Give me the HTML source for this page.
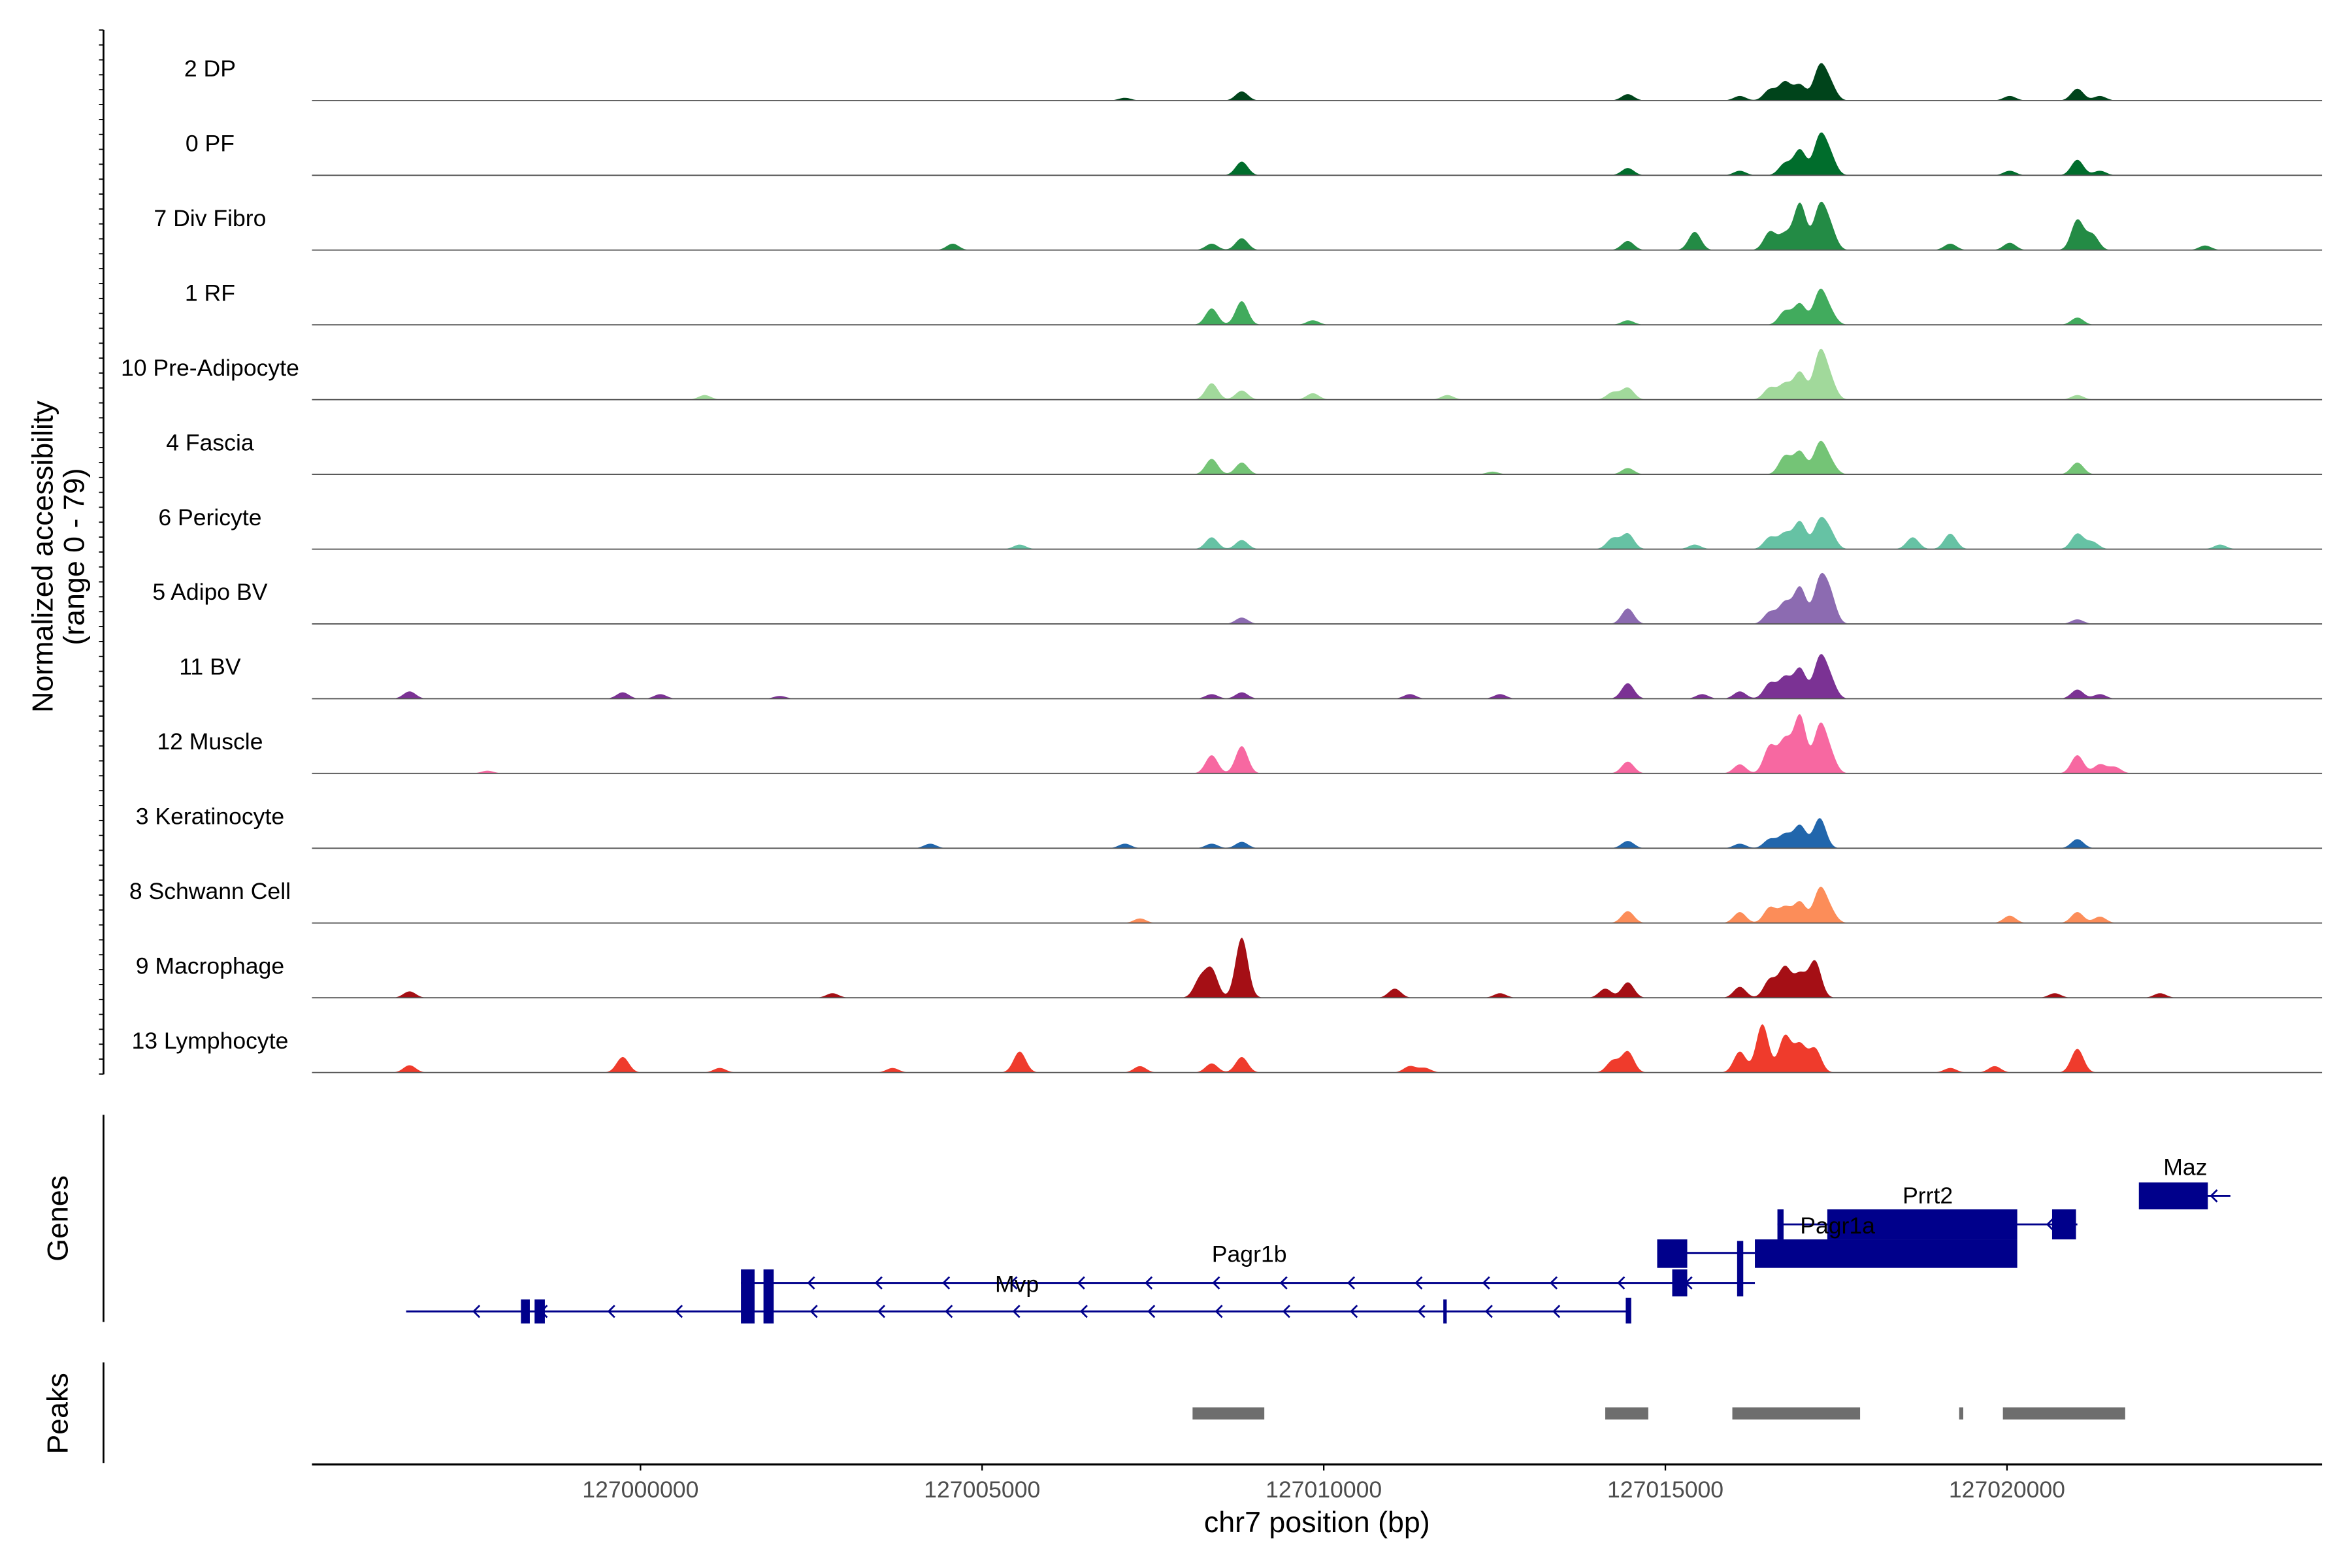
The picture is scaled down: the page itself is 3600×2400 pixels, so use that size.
<!DOCTYPE html>
<html><head><meta charset="utf-8"><style>
html,body{margin:0;padding:0;background:#fff}
svg{display:block;font-family:"Liberation Sans",sans-serif}
</style></head><body>
<svg id="chart" width="3600" height="2400" viewBox="0 0 1568 1045" preserveAspectRatio="none" xmlns="http://www.w3.org/2000/svg">
<rect width="1568" height="1045" fill="#fff"/>
<g id="tracks"></g>
<g id="genes"></g>
<g id="peaks"></g>
<g id="axes"></g>
</svg>
<script>
// genomic positions in kb relative to 127,000,000
const trackNames = ["2 DP","0 PF","7 Div Fibro","1 RF","10 Pre-Adipocyte","4 Fascia","6 Pericyte","5 Adipo BV","11 BV","12 Muscle","3 Keratinocyte","8 Schwann Cell","9 Macrophage","13 Lymphocyte"];
const trackColors = ["#00441b","#006d2c","#238b45","#41ab5d","#a1d99b","#74c476","#66c2a4","#8c6bb1","#7b3294","#f768a1","#2166ac","#fc8d59","#a50f15","#ef3b2c"];
const peakPos = [
 [16.97,17.26,16.75,16.53,17.41,16.09,21.03,20.04,8.80,14.45,7.09,21.36],
 [16.97,17.26,16.75,17.41,16.09,21.03,8.80,14.45,20.04,21.36],
 [16.97,17.26,16.53,16.75,17.41,15.43,14.45,21.03,21.25,8.80,8.36,4.57,19.17,20.04,22.90],
 [8.36,8.80,16.97,17.26,16.75,17.41,14.45,21.03,9.84],
 [8.36,8.80,17.26,16.97,16.75,16.53,14.45,14.23,17.41,9.84,11.81,21.03,0.94],
 [8.36,8.80,16.97,17.26,16.75,17.41,14.45,21.03,12.47],
 [8.36,8.80,14.45,14.23,16.97,17.26,16.75,16.53,17.41,18.62,19.17,21.03,21.25,15.43,5.55,23.12],
 [14.45,16.97,17.26,16.75,16.53,17.41,8.80,21.03],
 [-3.38,-0.26,0.29,14.45,16.97,17.26,16.75,16.53,17.41,16.09,15.54,8.80,8.36,21.03,21.36,12.58,11.26,2.04],
 [8.36,8.80,16.97,17.26,16.75,16.53,17.41,16.09,14.45,21.03,21.36,21.58,-2.24],
 [16.97,17.26,16.75,16.53,16.09,14.45,21.03,8.36,8.80,4.24,7.09],
 [16.97,17.26,16.75,16.53,17.41,16.09,14.45,20.04,21.03,21.36,7.31],
 [8.36,8.80,8.19,14.45,14.12,16.75,17.19,16.97,16.53,16.09,11.04,-3.38,2.81,20.70,22.24,12.58],
 [-0.26,5.55,8.80,8.36,14.45,14.23,16.09,16.42,16.75,16.97,17.19,21.03,-3.38,7.31,11.26,19.17,19.82,1.16,3.69,11.48]
];
const peakVal = [
 [17,36,20,12,17,5,13,5,10,7,3,5],
 [28,41,13,20,5,17,15,8,5,5],
 [51,46,20,17,23,20,10,33,17,13,7,7,7,8,5],
 [18,26,23,36,15,13,5,8,5],
 [18,10,50,30,17,13,13,8,20,7,5,5,5],
 [17,13,25,33,20,13,7,13,3],
 [13,10,17,12,30,30,17,13,17,13,17,17,8,5,5,5],
 [17,40,46,23,13,30,7,5],
 [8,7,5,17,33,43,23,17,20,8,5,7,5,10,5,5,5,3],
 [20,30,63,50,36,30,20,10,13,20,10,7,3],
 [25,33,15,10,5,8,10,5,7,5,5],
 [23,36,17,17,13,12,13,8,12,7,5],
 [30,66,20,17,10,33,40,25,20,12,10,7,5,5,5,5],
 [17,23,17,10,23,13,23,53,40,30,26,26,8,7,7,5,7,5,5,5]
];
const xTicks = [0,5,10,15,20];
const xTickLabels = ["127000000","127005000","127010000","127015000","127020000"];
// gene models: [startKb, endKb, rowY]
const geneLines = [[-3.43,14.45,874],[1.47,16.31,855],[15.32,16.31,835],[16.64,21.03,816],[22.0,23.27,797]];
const geneExons = [[-1.75,-1.62,866,882],[-1.55,-1.4,866,882],[1.47,1.67,846,882],[1.80,1.95,846,882],[11.75,11.8,866,882],[14.42,14.5,865,882],[15.1,15.32,846,864],[14.88,15.32,826,845],[16.05,16.14,827,864],[16.31,20.15,826,845],[17.37,20.15,806,826],[16.64,16.73,806,826],[20.66,21.01,806,826],[21.93,22.94,788,806]];
const geneNames = ["Pagr1b","Mvp","Pagr1a","Prrt2","Maz"];
const geneLabelPos = [[8.91,841],[5.51,861],[17.52,822],[18.84,802],[22.61,783]];
const peakStart = [8.08,14.12,15.98,19.30,19.94];
const peakEnd = [9.13,14.75,17.85,19.36,21.73];

const NS='http://www.w3.org/2000/svg';
const X0=427, KB=45.55;
function xs(kb){return X0+kb*KB;}
const UNIT=48/79;
function mk(tag,attrs,parent){const e=document.createElementNS(NS,tag);for(const k in attrs)e.setAttribute(k,attrs[k]);parent.appendChild(e);return e;}
const tracks=document.getElementById('tracks');
trackNames.forEach((nm,i)=>{
  const base=67+49.83*i;
  const g=mk('g',{},tracks);
  
  
  let d='M208,'+base;
  for(let x=208;x<=1548;x+=1){
    const kb=(x-X0)/KB;let v=0;
    peakPos[i].forEach((p,j)=>{const z=(kb-p)/0.09;v+=peakVal[i][j]*Math.exp(-0.5*z*z);});
    d+=' L'+x+','+(base-Math.min(v,79)*UNIT).toFixed(2);
  }
  d+=' L1548,'+base+' Z';
  const a=mk('path',{d:d,fill:trackColors[i]},g);
  
  
  const l=mk('line',{x1:208,x2:1548,y1:base,y2:base,stroke:'#555','stroke-width':0.8},g);
  
  
  const t=mk('text',{x:140,y:base-16,'font-size':15.5,'text-anchor':'middle',fill:'#000'},g);
  t.textContent=nm;
  
  
});
const genes=document.getElementById('genes');
const C='#00008b';
geneLines.forEach(r=>{
  const l=mk('line',{x1:xs(r[0]),x2:xs(r[1]),y1:r[2],y2:r[2],stroke:C,'stroke-width':1.3},genes);
  
  
  for(let x=xs(r[0])+45;x<xs(r[1])-5;x+=45){
    const ar=mk('path',{d:`M${x+4},${r[2]-4} L${x},${r[2]} L${x+4},${r[2]+4}`,stroke:C,fill:'none','stroke-width':1.2},genes);
    
    
  }
});
geneExons.forEach(e=>{
  const r=mk('rect',{x:xs(e[0]),y:e[2],width:Math.max(2,xs(e[1])-xs(e[0])),height:e[3]-e[2],fill:C},genes);
  
  
});
geneNames.forEach((n,i)=>{
  const t=mk('text',{x:xs(geneLabelPos[i][0]),y:geneLabelPos[i][1],'font-size':15.5,'text-anchor':'middle',fill:'#000'},genes);
  t.textContent=n;
  
  
});
const peaks=document.getElementById('peaks');
peakStart.forEach((s,i)=>{
  const r=mk('rect',{x:xs(s),y:938,width:Math.max(2,xs(peakEnd[i])-xs(s)),height:8,fill:'#6e6e6e'},peaks);
  
  
});
const ax=document.getElementById('axes');
function line(x1,y1,x2,y2,w,name){const l=mk('line',{x1,y1,x2,y2,stroke:'#000','stroke-width':w},ax);return l;}
line(69,20,69,716,1.2,'y-axis-line');
for(let y=20;y<=716;y+=9.94){line(66,y,69,y,0.8,'y-axis-tick');}
line(69,743,69,881,1.2,'genes-axis-line');
line(69,908,69,975,1.2,'peaks-axis-line');
line(208,976,1548,976,1.4,'x-axis-line');
xTicks.forEach((t,i)=>{
  line(xs(t),976,xs(t),980,1,'x-axis-tick');
  const tx=mk('text',{x:xs(t),y:998,'font-size':15.5,'text-anchor':'middle',fill:'#4d4d4d'},ax);
  tx.textContent=xTickLabels[i];
  
  
});
function txt(s,x,y,size,rot,name){const t=mk('text',{x,y,'font-size':size,'text-anchor':'middle',fill:'#000'},ax);if(rot)t.setAttribute('transform',`rotate(-90 ${x} ${y})`);t.textContent=s;}
txt('chr7 position (bp)',878,1021,19.5,false,'x-axis-title');
txt('Normalized accessibility',35,371,19.5,true,'y-axis-title');
txt('(range 0 - 79)',56,371,19.5,true,'y-axis-subtitle');
txt('Genes',45,812,19.5,true,'genes-panel-title');
txt('Peaks',45,942,19.5,true,'peaks-panel-title');
</script>
</body></html>
